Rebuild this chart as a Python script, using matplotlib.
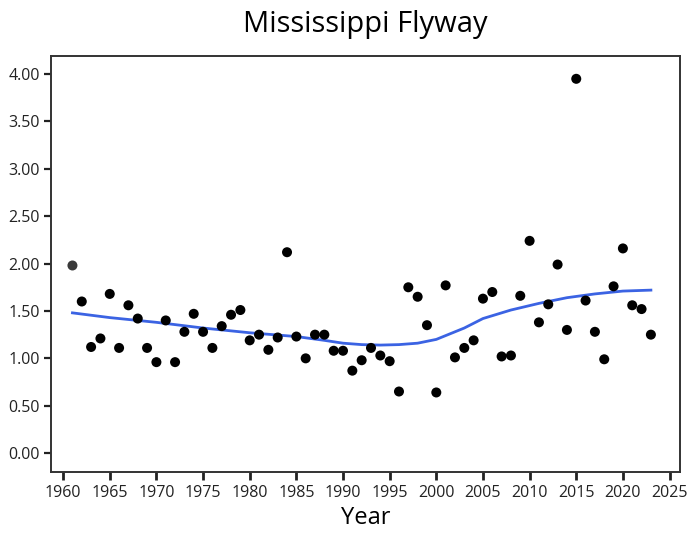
import numpy as np
import matplotlib
matplotlib.use("Agg")
import matplotlib.pyplot as plt

plt.rcParams['font.family'] = ['Open Sans', 'DejaVu Sans']

# Yearly values
years = np.arange(1961, 2024)
values = [1.98, 1.60, 1.12, 1.21, 1.68, 1.11, 1.56, 1.42, 1.11, 0.96,
          1.40, 0.96, 1.28, 1.47, 1.28, 1.11, 1.34, 1.46, 1.51, 1.19,
          1.25, 1.09, 1.22, 2.12, 1.23, 1.00, 1.25, 1.25, 1.08, 1.08,
          0.87, 0.98, 1.11, 1.03, 0.97, 0.65, 1.75, 1.65, 1.35, 0.64,
          1.77, 1.01, 1.11, 1.19, 1.63, 1.70, 1.02, 1.03, 1.66, 2.24,
          1.38, 1.57, 1.99, 1.30, 3.95, 1.61, 1.28, 0.99, 1.76, 2.16,
          1.56, 1.52, 1.25]

# Smoothed trend line
trend_years = [1961, 1963, 1965, 1968, 1970, 1975, 1980, 1985, 1988, 1990, 1992,
               1994, 1996, 1998, 2000, 2001, 2003, 2005, 2008, 2011, 2014,
               2017, 2020, 2023]
trend_vals = [1.48, 1.455, 1.43, 1.40, 1.38, 1.32, 1.27, 1.23, 1.19, 1.16, 1.145,
              1.14, 1.145, 1.16, 1.20, 1.24, 1.32, 1.42, 1.51, 1.58, 1.64,
              1.68, 1.71, 1.72]

fig = plt.figure(figsize=(6.88, 5.34), dpi=100)
ax = fig.add_axes([0.0741, 0.116, 0.914, 0.779])

colors = ['#3a3a3a'] + ['black'] * (len(years) - 1)
ax.scatter(years, values, s=52, c=colors, zorder=3, linewidths=0)
ax.plot(trend_years, trend_vals, color='#3b63e3', linewidth=2, zorder=2)

ax.set_xlim(1958.7, 2026.1)
ax.set_ylim(-0.2, 4.19)
ax.set_xticks(np.arange(1960, 2026, 5))
ax.set_yticks(np.arange(0, 4.01, 0.5))
ax.set_yticklabels([f"{v:.2f}" for v in np.arange(0, 4.01, 0.5)])

ax.tick_params(axis='x', length=6, width=2, color='#222222', labelsize=11.5,
               labelcolor='#222222', pad=3)
ax.tick_params(axis='y', length=5, width=1.6, color='#222222', labelsize=11.5,
               labelcolor='#222222', pad=3)
for sp in ax.spines.values():
    sp.set_color('#333333')
    sp.set_linewidth(1.4)

ax.set_xlabel("Year", fontsize=17, labelpad=4)
ax.set_title("Mississippi Flyway", fontsize=21, pad=17)

fig.savefig("out.png", dpi=100)
